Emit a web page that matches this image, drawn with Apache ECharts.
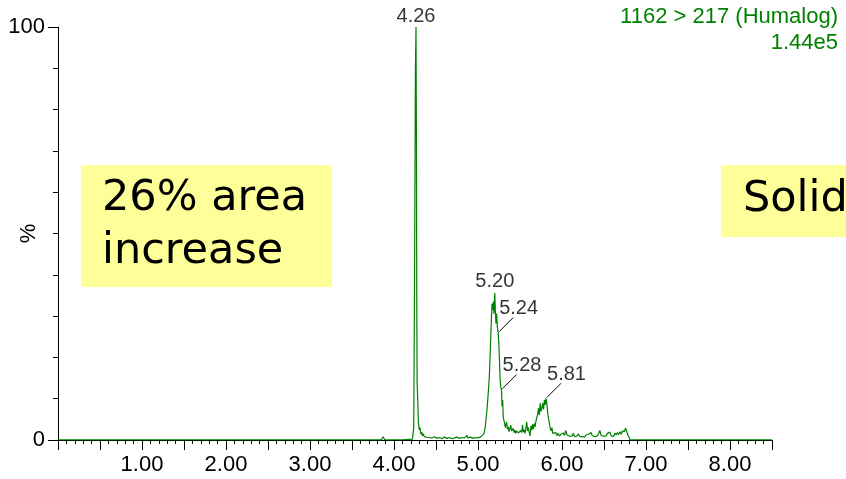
<!DOCTYPE html>
<html>
<head>
<meta charset="utf-8">
<script src="https://cdn.jsdelivr.net/npm/echarts@6/dist/echarts.min.js"></script>
<style>
  html, body { margin: 0; padding: 0; background: #fff; }
  #chart { width: 846px; height: 479px; }
</style>
</head>
<body>
<div id="chart"></div>
<script>
// 保留时间 (min) 与相对强度 (%)
const retentionTimes = [
  0.00, 0.50, 1.00, 1.50, 2.00, 2.50, 3.00, 3.50, 3.85, 3.87, 3.89, 4.10, 4.22,
  4.235, 4.245, 4.255, 4.262, 4.267, 4.271, 4.275, 4.28, 4.285, 4.29, 4.30, 4.31,
  4.32, 4.33, 4.34, 4.35, 4.36, 4.38, 4.40, 4.42, 4.45, 4.48, 4.51, 4.54, 4.57,
  4.60, 4.63, 4.66, 4.69, 4.72, 4.75, 4.78, 4.81, 4.84, 4.87, 4.88, 4.91, 4.94,
  4.97, 5.00, 5.03, 5.05, 5.07, 5.087, 5.103, 5.119, 5.135, 5.151, 5.159, 5.167,
  5.175, 5.183, 5.19, 5.20, 5.206, 5.214, 5.222, 5.23, 5.24, 5.248, 5.254, 5.262,
  5.27, 5.28, 5.286, 5.294, 5.30, 5.31, 5.317, 5.325, 5.333, 5.34, 5.35, 5.36,
  5.365, 5.37, 5.38, 5.39, 5.40, 5.41, 5.42, 5.43, 5.44, 5.45, 5.46, 5.47, 5.48,
  5.49, 5.50, 5.51, 5.52, 5.53, 5.54, 5.55, 5.56, 5.57, 5.58, 5.59, 5.60, 5.61,
  5.62, 5.63, 5.64, 5.65, 5.66, 5.67, 5.68, 5.69, 5.70, 5.71, 5.72, 5.73, 5.74,
  5.75, 5.76, 5.77, 5.78, 5.79, 5.80, 5.81, 5.82, 5.83, 5.84, 5.85, 5.86, 5.87,
  5.88, 5.89, 5.90, 5.91, 5.925, 5.94, 5.955, 5.97, 5.985, 6.00, 6.015, 6.03,
  6.045, 6.06, 6.075, 6.09, 6.105, 6.12, 6.135, 6.15, 6.165, 6.18, 6.195, 6.21,
  6.225, 6.24, 6.255, 6.27, 6.285, 6.30, 6.315, 6.33, 6.345, 6.36, 6.375, 6.39,
  6.405, 6.42, 6.435, 6.45, 6.465, 6.48, 6.495, 6.51, 6.525, 6.54, 6.555, 6.57,
  6.585, 6.60, 6.615, 6.63, 6.645, 6.66, 6.675, 6.69, 6.705, 6.72, 6.735, 6.745,
  6.755, 6.765, 6.775, 6.785, 6.795, 6.81, 6.85, 7.50, 8.50
];
const intensities = [
  0.05, 0.05, 0.05, 0.05, 0.05, 0.05, 0.05, 0.05, 0.05, 0.8, 0.05, 0.05, 0.2,
  3, 40, 90, 100, 72, 35, 14, 11, 8, 4.4, 2.5, 3.0,
  1.4, 1.9, 1.0, 1.5, 0.8, 1.2, 0.6, 0.9, 0.5, 0.8, 0.4, 0.6, 0.3,
  0.7, 0.4, 0.6, 0.3, 0.5, 0.7, 0.4, 0.6, 0.5, 1.1, 0.5, 0.7, 0.4,
  0.6, 0.5, 0.7, 0.9, 1.5, 3.2, 6.5, 10.5, 15.3, 24.2, 29, 33,
  31.5, 33.5, 30.6, 35.6, 31.5, 28.2, 30.6, 27.4, 26.0, 23.5, 20.2, 15.3,
  12.9, 12.2, 8.1, 9.7, 5.6, 4.6, 4.0, 3.0, 3.2, 4.4, 2.6, 3.2,
  2.8, 2.0, 2.4, 3.6, 2.2, 2.0, 2.8, 1.8, 2.4, 1.6, 2.2, 2.6, 1.7,
  2.0, 1.5, 2.3, 1.8, 3.6, 1.9, 2.5, 1.6, 2.8, 4.4, 2.2, 3.0, 1.8,
  1.0, 3.4, 2.4, 3.8, 2.6, 4.0, 3.2, 4.6, 4.8, 6.2, 7.7, 6.0, 8.9,
  6.9, 7.8, 8.9, 7.4, 9.7, 8.5, 10.1, 8.8, 6.5, 5.2, 4.0, 2.8, 2.2,
  3.0, 1.6, 2.0, 1.3, 1.8, 1.1, 1.6, 0.9, 1.4, 1.0, 1.7, 1.1,
  2.3, 1.2, 1.5, 0.9, 1.3, 1.0, 1.6, 0.8, 1.2, 1.0, 1.5, 0.9,
  1.3, 0.8, 1.1, 0.7, 1.2, 0.9, 1.4, 1.0, 1.8, 1.1, 1.3, 0.8,
  1.2, 1.0, 1.5, 2.3, 1.1, 1.4, 0.9, 1.3, 1.0, 1.6, 1.2, 1.9,
  1.0, 1.4, 0.9, 1.7, 1.2, 1.8, 1.3, 2.0, 1.4, 2.2, 2.6, 2.0,
  2.9, 2.4, 2.7, 1.2, 1.6, 0.05, 0.05, 0.05, 0.05
];

// 峰标注
const peakTimes = [4.262, 5.20, 5.24, 5.28, 5.81];
const peakValues = [100, 35.6, 26.0, 12.2, 10.1];
const peakLeader = [false, false, true, true, true]; // 是否带引线

const traceTitle = "1162 > 217 (Humalog)";
const traceScale = "1.44e5";

const mainDom = document.getElementById("chart");
const myChart = echarts.init(mainDom, null, { renderer: "canvas" });

const traceData = retentionTimes.map((t, i) => [t, intensities[i]]);
const peakData = peakTimes.map((t, i) => ({
  value: [t, peakValues[i]],
  label: peakLeader[i]
    ? { position: "right", distance: 0, offset: [1, -24] }
    : { position: "top", distance: 1 },
}));

const green = "#008000";
const axisFont = "Liberation Sans, Arial, sans-serif";

const option = {
  backgroundColor: "#ffffff",
  animation: false,
  grid: { left: 58, right: 74, top: 27, bottom: 39, containLabel: false, outerBoundsMode: "none" },
  xAxis: {
    type: "value",
    min: 0,
    max: 8.5,
    interval: 0.5,
    axisLine: { lineStyle: { color: "#000", width: 1 } },
    axisTick: { length: 10, lineStyle: { color: "#000" } },
    minorTick: { show: true, splitNumber: 5, length: 4, lineStyle: { color: "#000" } },
    splitLine: { show: false },
    axisLabel: {
      margin: 14,
      color: "#000",
      fontSize: 22,
      fontFamily: axisFont,
      formatter: (v) => (v > 0 && Math.abs(v - Math.round(v)) < 1e-6 ? v.toFixed(2) : ""),
    },
  },
  yAxis: {
    type: "value",
    min: 0,
    max: 100,
    interval: 100,
    name: "%",
    nameLocation: "middle",
    nameGap: 18,
    nameRotate: 90,
    nameMoveOverlap: false,
    nameTextStyle: { color: "#000", fontSize: 22, fontFamily: axisFont },
    axisLine: { show: true, lineStyle: { color: "#000", width: 1 } },
    axisTick: { show: true, length: 10, lineStyle: { color: "#000" } },
    minorTick: { show: true, splitNumber: 10, length: 5, lineStyle: { color: "#000" } },
    splitLine: { show: false },
    axisLabel: { margin: 13, color: "#000", fontSize: 22, fontFamily: axisFont },
  },
  series: [
    {
      type: "line",
      data: traceData,
      symbol: "none",
      lineStyle: { color: green, width: 1.2 },
      clip: true,
      z: 3,
    },
    {
      type: "scatter",
      data: peakData,
      symbolSize: 0,
      silent: true,
      label: {
        show: true,
        color: "#000",
        fontSize: 20,
        fontFamily: axisFont,
        formatter: (p) => p.value[0].toFixed(2),
      },
      z: 4,
    },
  ],
};

myChart.setOption(option);

// 引线与注释框
const boxFont = "43px 'DejaVu Sans', Verdana, sans-serif";
const titleFont = "22px 'Liberation Sans', Arial, sans-serif";
const graphics = [
  { type: "rect", shape: { x: 81, y: 165, width: 251, height: 122 }, style: { fill: "#ffff99" }, z: 1 },
  { type: "text", x: 102, y: 199, style: { text: "26% area", font: boxFont, fill: "#000", verticalAlign: "middle" }, z: 2 },
  { type: "text", x: 102, y: 252, style: { text: "increase", font: boxFont, fill: "#000", verticalAlign: "middle" }, z: 2 },
  { type: "rect", shape: { x: 721, y: 165, width: 130, height: 72 }, style: { fill: "#ffff99" }, z: 1 },
  { type: "text", x: 743, y: 200, style: { text: "Solid", font: boxFont, fill: "#000", verticalAlign: "middle" }, z: 2 },
  { type: "text", x: 838, y: 17, style: { text: traceTitle, font: titleFont, fill: green, align: "right", verticalAlign: "middle" }, z: 2 },
  { type: "text", x: 838, y: 43, style: { text: traceScale, font: titleFont, fill: green, align: "right", verticalAlign: "middle" }, z: 2 },
];
peakTimes.forEach((t, i) => {
  if (!peakLeader[i]) return;
  const p = myChart.convertToPixel({ seriesIndex: 0 }, [t, peakValues[i]]);
  graphics.push({
    type: "line",
    shape: { x1: p[0] + 1, y1: p[1] - 1, x2: p[0] + 15, y2: p[1] - 15 },
    style: { stroke: "#000", lineWidth: 1 },
    z: 4,
  });
});
myChart.setOption({ graphic: graphics });

window.addEventListener("resize", function () {
  myChart.resize();
});
</script>
</body>
</html>
